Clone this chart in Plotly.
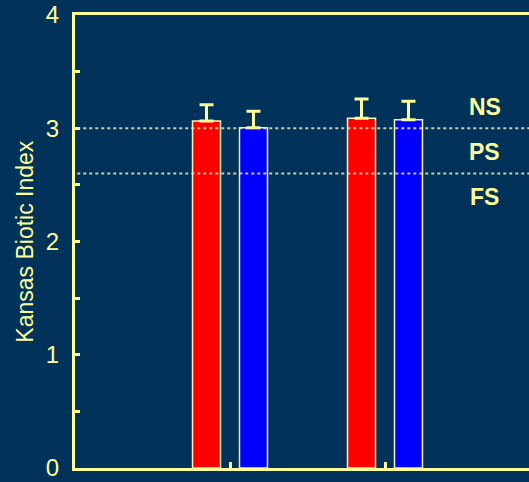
import plotly.graph_objects as go

categories = [1, 2]
red_values = [3.065, 3.088]
red_errors = [0.142, 0.170]
blue_values = [3.005, 3.076]
blue_errors = [0.145, 0.162]
threshold_values = [3.0, 2.6]
zone_labels = ["NS", "PS", "FS"]
zone_label_y = [3.19, 2.79, 2.395]
y_tick_vals = [0, 1, 2, 3, 4]

BG = "#00325a"
YEL = "#ffff99"
FONT = "Liberation Sans Narrow, Arial Narrow, Liberation Sans, sans-serif"

fig = go.Figure()
for vals, errs, col in [(red_values, red_errors, "#ff0000"), (blue_values, blue_errors, "#0000ff")]:
    fig.add_trace(go.Bar(
        x=categories, y=vals, marker=dict(color=col, line=dict(color="#f4f4b8", width=1.5)),
        error_y=dict(type="data", symmetric=False, array=errs, arrayminus=[0] * len(errs),
                     color=YEL, thickness=3, width=7),
        showlegend=False,
    ))

for v in threshold_values:
    fig.add_shape(type="line", xref="paper", x0=0.005, x1=1, yref="y", y0=v, y1=v,
                  line=dict(color="rgba(235,235,185,0.85)", width=2, dash="dot"), layer="above")

for lab, yy in zip(zone_labels, zone_label_y):
    fig.add_annotation(x=2.645, y=yy, xref="x", yref="y", text=lab, showarrow=False,
                       font=dict(family=FONT, size=23, color=YEL, weight="bold"))

fig.add_annotation(x=-0.112, y=0.5, xref="paper", yref="paper", text="Kansas Biotic Index",
                   textangle=-90, showarrow=False, xanchor="center", yanchor="middle",
                   font=dict(family=FONT, size=23, color=YEL))

fig.update_layout(
    width=529, height=482,
    margin=dict(l=75, r=0, t=15, b=14),
    paper_bgcolor=BG, plot_bgcolor=BG,
    barmode="group", bargap=0.394, bargroupgap=0.404,
    font=dict(family=FONT, color=YEL),
    xaxis=dict(range=[0, 454 / 155], tickvals=[1, 2, 3], ticks="inside", ticklen=6, tickwidth=3,
               tickcolor=YEL, showticklabels=False, showgrid=False, zeroline=False,
               showline=True, linecolor=YEL, linewidth=3, mirror=True),
    yaxis=dict(range=[0, 4], tickvals=y_tick_vals, ticks="inside", ticklen=5, tickwidth=3,
               tickcolor=YEL, showgrid=False, zeroline=False, showline=True, linecolor=YEL,
               linewidth=3, tickfont=dict(family=FONT, size=24, color=YEL), ticklabelstandoff=8,
               minor=dict(dtick=0.5, ticks="inside", ticklen=5, tickwidth=3, tickcolor=YEL, showgrid=False)),
)

fig.write_html("out.html", config={"displayModeBar": False},
               post_script="document.body.style.margin='0';document.body.style.overflow='hidden';document.body.style.background='%s';" % BG)
